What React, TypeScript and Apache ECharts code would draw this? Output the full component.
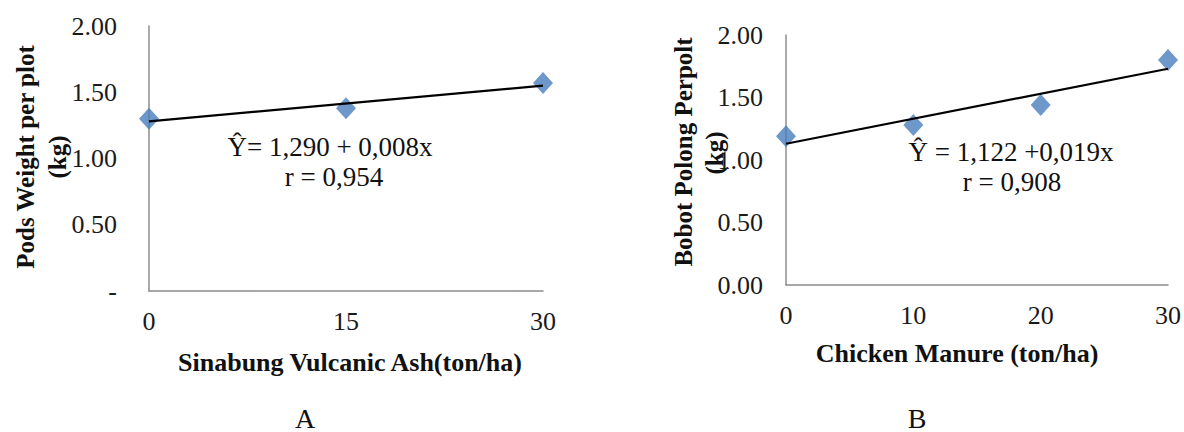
import React, { useEffect, useRef } from "react";
import * as echarts from "echarts";

const xA = [0, 15, 30];
const yA = [1.30, 1.38, 1.57];
const trendAX = [0, 30];
const trendAY = [1.28, 1.55];

const xB = [0, 10, 20, 30];
const yB = [1.19, 1.28, 1.44, 1.80];
const trendBX = [0, 30];
const trendBY = [1.13, 1.73];

const yTicks = [0, 0.5, 1.0, 1.5, 2.0];

const FONT = "'Liberation Serif', 'Times New Roman', serif";
const AXIS_COLOR = "#8c8c8c";
const MARKER = "#4a7ebb";

export default function App() {
  const ref = useRef<HTMLDivElement>(null);
  useEffect(() => {
    if (!ref.current) return;
    const chart = echarts.init(ref.current, undefined, { renderer: "svg" });
    const axisCommon = {
      axisLine: { show: true, lineStyle: { color: AXIS_COLOR, width: 1.5 } },
      axisTick: { show: false },
      splitLine: { show: false },
    };
    const labelStyle = { fontFamily: FONT, fontSize: 26, color: "#1a1a1a" };
    const boldText = (text: string, x: number, y: number, rot = 0, size = 26) => ({
      type: "text",
      x,
      y,
      rotation: rot,
      style: {
        text,
        fontFamily: FONT,
        fontSize: size,
        fontWeight: "bold",
        fill: "#111",
        textAlign: "center",
        textVerticalAlign: "middle",
      },
    });
    const plainText = (text: string, x: number, y: number, size = 27) => ({
      type: "text",
      x,
      y,
      style: {
        text,
        fontFamily: FONT,
        fontSize: size,
        fill: "#111",
        textAlign: "center",
        textVerticalAlign: "middle",
      },
    });
    chart.setOption({
      animation: false,
      grid: [
        { left: 149, top: 26, width: 394, height: 265 },
        { left: 786, top: 35, width: 384, height: 250 },
      ],
      xAxis: [
        {
          type: "value", gridIndex: 0, min: 0, max: 30, interval: 15,
          ...axisCommon,
          axisLabel: { ...labelStyle, margin: 17, showMaxLabel: true },
        },
        {
          type: "value", gridIndex: 1, min: 0, max: 30, interval: 10,
          ...axisCommon,
          axisLabel: { ...labelStyle, margin: 17, showMaxLabel: true },
        },
      ],
      yAxis: [
        {
          type: "value", gridIndex: 0, min: yTicks[0], max: yTicks[yTicks.length - 1], interval: 0.5,
          ...axisCommon,
          axisLabel: {
            ...labelStyle, margin: 32,
            formatter: (v: number) => (v === 0 ? "-" : v.toFixed(2)),
          },
        },
        {
          type: "value", gridIndex: 1, min: yTicks[0], max: yTicks[yTicks.length - 1], interval: 0.5,
          ...axisCommon,
          axisLabel: { ...labelStyle, margin: 23, formatter: (v: number) => v.toFixed(2) },
        },
      ],
      series: [
        {
          type: "line", xAxisIndex: 0, yAxisIndex: 0,
          data: trendAX.map((x, i) => [x, trendAY[i]]),
          symbol: "none", lineStyle: { color: "#000", width: 2.2 }, z: 3,
        },
        {
          type: "scatter", xAxisIndex: 0, yAxisIndex: 0,
          data: xA.map((x, i) => [x, yA[i]]),
          symbol: "diamond", symbolSize: [20, 22], itemStyle: { color: MARKER }, z: 2,
        },
        {
          type: "line", xAxisIndex: 1, yAxisIndex: 1,
          data: trendBX.map((x, i) => [x, trendBY[i]]),
          symbol: "none", lineStyle: { color: "#000", width: 2.2 }, z: 3,
        },
        {
          type: "scatter", xAxisIndex: 1, yAxisIndex: 1,
          data: xB.map((x, i) => [x, yB[i]]),
          symbol: "diamond", symbolSize: [20, 22], itemStyle: { color: MARKER }, z: 2,
        },
      ],
      graphic: [
        boldText("Pods Weight per plot", 25, 157, Math.PI / 2, 25),
        boldText("(kg)", 57, 157, Math.PI / 2, 25),
        boldText("Sinabung Vulcanic Ash(ton/ha)", 350, 362),
        boldText("Bobot Polong Perpolt", 683, 152, Math.PI / 2, 25),
        boldText("(kg)", 714, 153, Math.PI / 2, 25),
        boldText("Chicken Manure (ton/ha)", 957, 353),
        plainText("Ŷ= 1,290 + 0,008x", 330, 147),
        plainText("r = 0,954", 334, 177),
        plainText("Ŷ = 1,122 +0,019x", 1011, 152),
        plainText("r = 0,908", 1012, 182),
        plainText("A", 305, 418, 28),
        plainText("B", 917, 418, 28),
      ],
    });
    return () => chart.dispose();
  }, []);
  return (
    <div
      ref={ref}
      style={{ position: "absolute", left: 0, top: 0, width: 1184, height: 432, background: "#fff" }}
    />
  );
}
